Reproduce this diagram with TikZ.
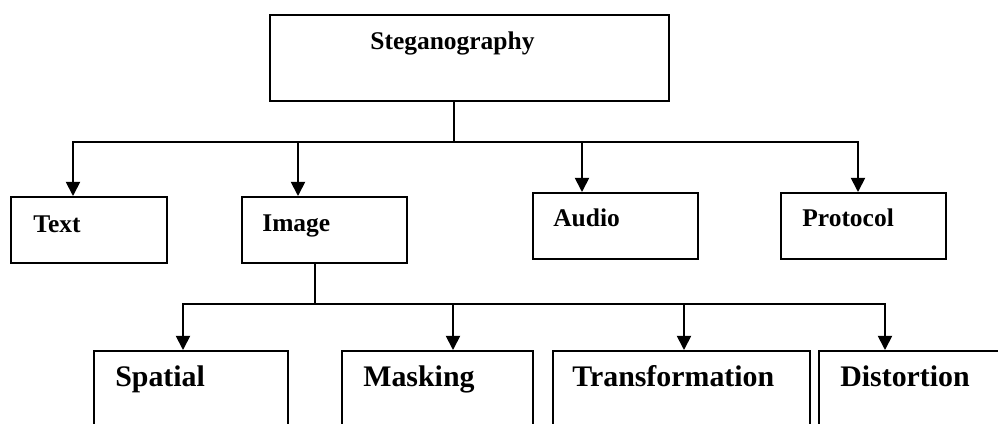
\documentclass[tikz,border=0pt]{standalone}
\usepackage{fontspec}
\setmainfont{Liberation Serif}
\usetikzlibrary{arrows.meta,positioning,calc}

\begin{document}
\begin{tikzpicture}[
    x=0.02cm, y=-0.02cm,
    box/.style={draw, line width=1pt, rectangle, anchor=north west, inner sep=0pt},
    lbl/.style={anchor=base west, inner sep=0pt, font=\fontsize{14.5}{17}\selectfont\bfseries},
    biglbl/.style={anchor=base west, inner sep=0pt, font=\fontsize{17}{20}\selectfont\bfseries},
    arr/.style={-{Triangle[length=8pt,width=8pt]}, line width=1pt, black},
    link/.style={line width=1pt, black},
]
\useasboundingbox (0,0) rectangle (998,423);
\clip (0,0) rectangle (998,423);

% root
\node[box, minimum width=7.98cm, minimum height=1.72cm] (steg) at (269,14) {};
\node[lbl] (stegtxt) at (370,49) {Steganography};

% first level
\node[box, minimum width=3.12cm, minimum height=1.32cm] (text) at (10,196) {};
\node[box, minimum width=3.30cm, minimum height=1.32cm] (image) at (241,196) {};
\node[box, minimum width=3.30cm, minimum height=1.32cm] (audio) at (532,192) {};
\node[box, minimum width=3.30cm, minimum height=1.32cm] (protocol) at (780,192) {};
\node[lbl] (texttxt) at (33,232) {Text};
\node[lbl] (imagetxt) at (262,231) {Image};
\node[lbl] (audiotxt) at (553,226) {Audio};
\node[lbl] (protocoltxt) at (802,226) {Protocol};

% second level (cut off at the bottom)
\node[box, minimum width=3.88cm, minimum height=2.4cm] (spatial) at (93,350) {};
\node[box, minimum width=3.82cm, minimum height=2.4cm] (masking) at (341,350) {};
\node[box, minimum width=5.14cm, minimum height=2.4cm] (transform) at (552,350) {};
\node[box, minimum width=4.0cm, minimum height=2.4cm] (distort) at (818,350) {};
\node[biglbl] (spatialtxt) at (115,386) {Spatial};
\node[biglbl] (maskingtxt) at (363,386) {Masking};
\node[biglbl] (transformtxt) at (572,386) {Transformation};
\node[biglbl] (distorttxt) at (840,386) {Distortion};

% connectors
\coordinate (hub1) at (454,142);
\coordinate (hub2) at (315,304);
\draw[link] (hub1) -- (hub1 |- steg.south);
\draw[arr] (hub1) -| ($(text.north west)+(63,0)$);
\draw[arr] (hub1) -| ($(image.north west)+(57,0)$);
\draw[arr] (hub1) -| ($(audio.north west)+(50,0)$);
\draw[arr] (hub1) -| ($(protocol.north west)+(78,0)$);

\draw[link] (hub2) -- (hub2 |- image.south);
\draw[arr] (hub2) -| ($(spatial.north west)+(90,0)$);
\draw[arr] (hub2) -| ($(masking.north west)+(112,0)$);
\draw[arr] (hub2) -| ($(transform.north west)+(132,0)$);
\draw[arr] (hub2) -| ($(distort.north west)+(67,0)$);
\end{tikzpicture}
\end{document}
